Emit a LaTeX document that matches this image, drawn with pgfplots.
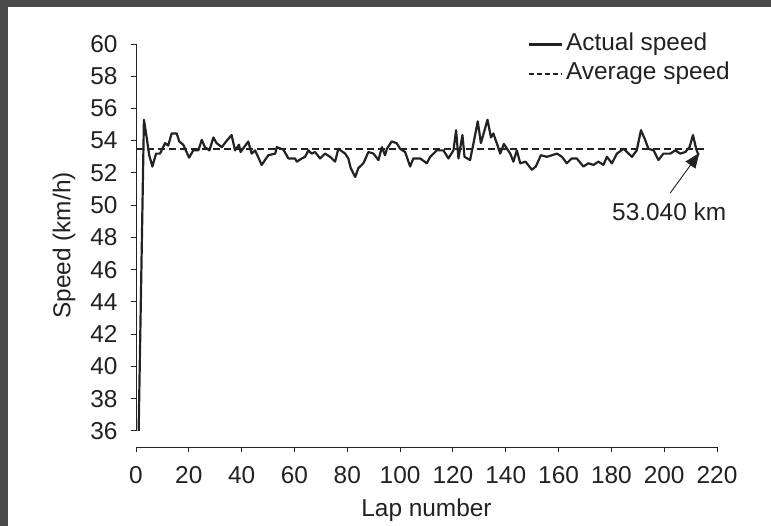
\documentclass[border=0pt]{standalone}
\usepackage{pgfplots}
\pgfplotsset{compat=1.18}
\usepackage{fontspec}
\setmainfont{Liberation Sans}
\usetikzlibrary{arrows.meta}
\definecolor{framegray}{HTML}{4A4A4A}
\definecolor{ink}{HTML}{222222}

\pgfplotstableread{
lap speed
1 36.0
3 55.3
4 54.25
5 53.1
6.2 52.4
7.6 53.2
9.1 53.2
11 53.85
12.2 53.7
13.5 54.45
15.4 54.45
16.4 53.95
17.9 53.75
20.1 52.95
21.7 53.4
23.6 53.4
24.9 54.05
26.1 53.6
27.8 53.4
29.3 54.2
30.5 53.85
32.5 53.6
34.1 53.95
36.2 54.35
37.5 53.4
39 53.75
39.6 53.3
42.5 53.95
43.8 53.2
45.1 53.4
47.6 52.5
50.1 53.1
52.7 53.2
53.3 53.6
55.8 53.45
57.7 52.9
60.2 52.9
60.9 52.7
62.8 52.9
64 53.0
65.3 53.4
66.5 53.2
67.8 53.3
69.7 52.9
71.6 53.2
73.5 53.0
75.4 52.7
76.6 53.5
79.2 53.2
80.4 52.9
81.3 52.3
83 51.75
84.2 52.3
86.1 52.6
88 53.3
89.9 53.2
91.8 52.8
93.1 53.6
94.3 53.1
95 53.5
96.8 53.95
98.7 53.85
100 53.5
101.9 53.3
103.8 52.4
105 52.9
107.6 52.9
110.1 52.6
111.4 53.0
113.9 53.4
116.4 53.4
118.3 52.9
120.2 53.4
121.2 54.65
122.1 52.9
123.6 54.35
124.4 53.0
126.5 52.8
127.8 53.85
129.4 55.2
130.6 53.85
133.1 55.3
134.4 54.2
135.3 54.45
136.6 53.85
137.9 53.2
139.3 53.8
141.7 53.2
142.9 52.7
144.2 53.4
145.5 52.6
147.5 52.7
149.9 52.2
151.4 52.4
153.3 53.1
155.6 53.0
157.5 53.1
159.4 53.2
161.3 53.0
163.1 52.6
165 52.9
166.9 52.9
169.4 52.4
171.3 52.6
173.2 52.5
175.1 52.7
177 52.5
178.3 53.0
180.2 52.6
182.1 53.2
184.6 53.5
185.9 53.3
187.8 53.0
189.6 53.4
191.2 54.65
192.8 54.05
194 53.5
196 53.4
197.8 52.8
199.7 53.2
202.3 53.2
204.2 53.4
206.1 53.2
208 53.3
209.6 53.6
210.9 54.35
212.1 53.5
213 53.1
}\actual

\pgfplotstableread{
lap speed
0 53.5
215 53.5
}\average

\begin{document}
\begin{tikzpicture}[x=1bp,y=1bp]
\fill[white] (0,-30) rectangle (800,526);
\fill[framegray] (0,-30) rectangle (8,526);
\fill[framegray] (0,519) rectangle (800,526);
\begin{axis}[
  at={(136bp,79bp)}, anchor=south west,
  scale only axis, width=581bp, height=403bp,
  xmin=0, xmax=220, ymin=35, ymax=60,
  clip=false,
  xtick={0,20,...,220}, ytick={36,38,...,60},
  axis lines*=left,
  y axis line style={draw=none},
  x axis line style={ink, line width=0.9bp},
  tick align=outside, major tick length=5bp,
  tick style={ink, line width=0.9bp},
  /pgf/number format/assume math mode=true,
  ticklabel style={font=\fontsize{24.5}{28}\selectfont, text=ink},
  xticklabel style={yshift=-11bp},
  yticklabel style={xshift=-10bp},
  label style={font=\fontsize{24.5}{28}\selectfont, text=ink},
  xlabel={Lap number}, ylabel={Speed (km/h)},
  xlabel shift=8bp, ylabel shift=8bp,
  legend style={draw=none, fill=none, at={(axis description cs:0.675,1.035)},
    anchor=north west, font=\fontsize{24.5}{28}\selectfont, text=ink,
    row sep=0pt, inner sep=0pt, nodes={inner sep=2.5bp, text height=18bp, text depth=6bp}},
  legend cell align=left,
  legend image code/.code={\draw[#1] (0bp,0bp) -- (33bp,0bp);},
]
\addplot[ink, line width=2.2bp, line join=round] table[x=lap, y=speed] {\actual};
\addlegendentry{Actual speed}
\addplot[ink, line width=2bp, dash pattern=on 7bp off 4bp,
  legend image post style={dash pattern=on 5bp off 2.8bp}] table[x=lap, y=speed] {\average};
\addlegendentry{Average speed}
\draw[ink, line width=0.9bp] (axis cs:0,36) -- (axis cs:0,60);
\draw[ink, line width=0.9bp, -{Triangle[length=15bp, width=12bp]}]
  (axis cs:202.3,50.76) -- (axis cs:213.3,53.24);
\node[text=ink, font=\fontsize{24.5}{28}\selectfont] at (axis cs:201.9,49.6) {53.040 km};
\end{axis}
\pgfresetboundingbox
\path[use as bounding box] (0,0) rectangle (771,526);
\end{tikzpicture}
\end{document}
